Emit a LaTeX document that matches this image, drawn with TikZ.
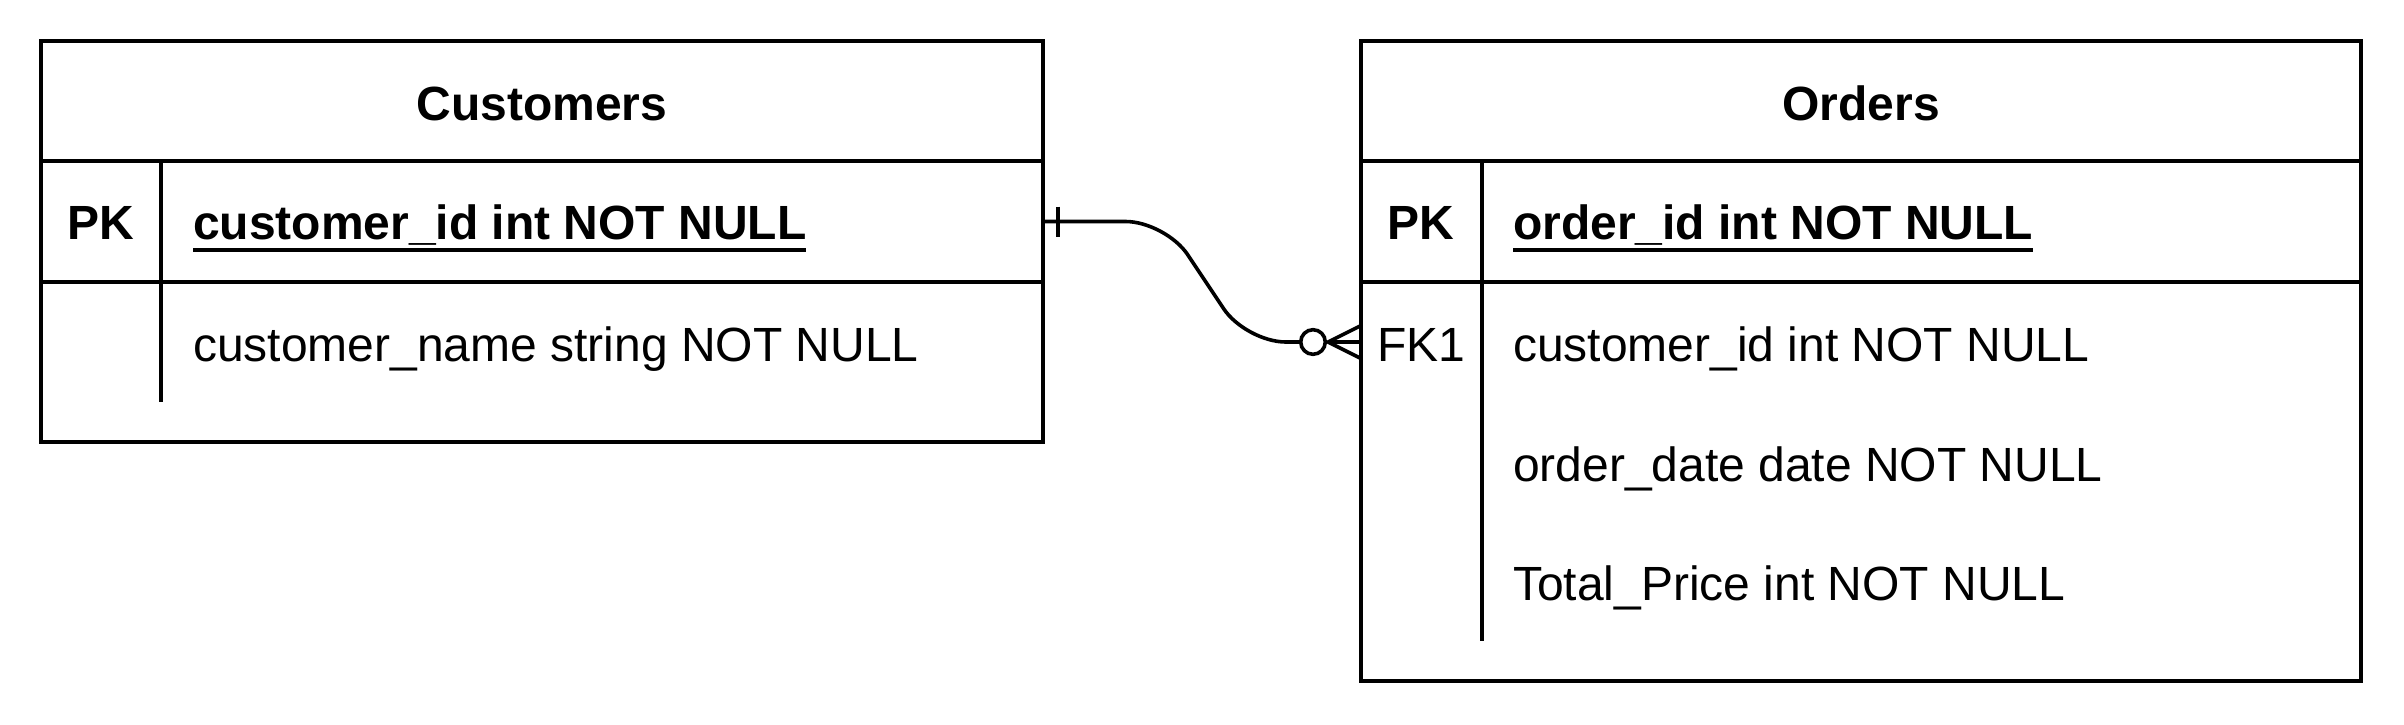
\documentclass[tikz,border=0pt]{standalone}
\usepackage{fontspec}
\setmainfont{Liberation Sans}
\usetikzlibrary{calc}
\begin{document}
\begin{tikzpicture}[x=0.5pt,y=-0.5pt,
  tablebox/.style={draw, line width=2pt, inner sep=0pt, outer sep=0pt, anchor=north west},
  rowbox/.style={inner sep=0pt, outer sep=0pt, anchor=north west, minimum height=60pt},
  sepline/.style={line width=1.8pt},
  txt/.style={inner sep=0pt, outer sep=0pt, font=\fontsize{24pt}{29pt}\selectfont},
  boldtxt/.style={txt, font=\fontsize{24pt}{29pt}\selectfont\bfseries},
  uline/.style={line width=1.7pt},
  conn/.style={line width=1.8pt}
]
\useasboundingbox (0,0) rectangle (2404,724);

% ---------------- Customers ----------------
\node[tablebox, minimum width=501pt, minimum height=200.5pt] (cust) at (41,41) {};
\node[rowbox, minimum width=501pt, minimum height=60.5pt] (c-pk) at (41,161) {};
\node[rowbox, minimum width=501pt] (c-r1) at (41,282) {};
\draw[sepline] (c-pk.north west) -- (c-pk.north east);
\draw[sepline] (c-pk.south west) -- (c-pk.south east);
\coordinate (c-sep-top) at (161,161);
\coordinate (c-sep-bot) at (161,402);
\draw[sepline] (c-sep-top) -- (c-sep-bot);

\node[boldtxt, anchor=base] (c-title) at (542,120) {Customers};
\node[boldtxt, anchor=base] (c-pk-key) at (101,239) {PK};
\node[boldtxt, anchor=base west] (c-pk-name) at (193,239) {customer\_id int NOT NULL};
\draw[uline] ([yshift=-5.5pt]c-pk-name.base west) -- ([yshift=-5.5pt]c-pk-name.base east);
\node[txt, anchor=base west] (c-r1-name) at (193,361) {customer\_name string NOT NULL};

% ---------------- Orders ----------------
\node[tablebox, minimum width=500pt, minimum height=320pt] (ord) at (1361,41) {};
\node[rowbox, minimum width=500pt, minimum height=60.5pt] (o-pk) at (1361,161) {};
\node[rowbox, minimum width=500pt] (o-fk) at (1361,282) {};
\draw[sepline] (o-pk.north west) -- (o-pk.north east);
\draw[sepline] (o-pk.south west) -- (o-pk.south east);
\coordinate (o-sep-top) at (1482,161);
\coordinate (o-sep-bot) at (1482,641);
\draw[sepline] (o-sep-top) -- (o-sep-bot);

\node[boldtxt, anchor=base] (o-title) at (1861,120) {Orders};
\node[boldtxt, anchor=base] (o-pk-key) at (1421,239) {PK};
\node[boldtxt, anchor=base west] (o-pk-name) at (1513,239) {order\_id int NOT NULL};
\draw[uline] ([yshift=-5.5pt]o-pk-name.base west) -- ([yshift=-5.5pt]o-pk-name.base east);
\node[txt, anchor=base] (o-fk-key) at (1421,361) {FK1};
\node[txt, anchor=base west] (o-fk-name) at (1513,361) {customer\_id int NOT NULL};
\node[txt, anchor=base west] (o-r2-name) at (1513,481) {order\_date date NOT NULL};
\node[txt, anchor=base west] (o-r3-name) at (1513,600) {Total\_Price int NOT NULL};

% ---------------- Relationship ----------------
\coordinate (circ) at ($(o-fk.west)+(-48,0)$);
\draw[conn, rounded corners=20pt] (c-pk.east) -- ($(c-pk.east)+(122.6,0)$)
   -- ($(o-fk.west)+(-115.2,0)$) -- ($(circ)+(-12.3,0)$);
% one mark
\draw[conn] ($(c-pk.east)+(15,-15)$) -- ($(c-pk.east)+(15,15)$);
% zero circle
\draw[conn] (circ) circle[radius=6.15pt];
% crow's foot
\draw[conn] ($(o-fk.west)+(0,-16.5)$) -- ($(o-fk.west)+(-33,0)$) -- ($(o-fk.west)+(0,16.5)$);
\draw[conn] ($(o-fk.west)+(-33,0)$) -- (o-fk.west);
\end{tikzpicture}
\end{document}
